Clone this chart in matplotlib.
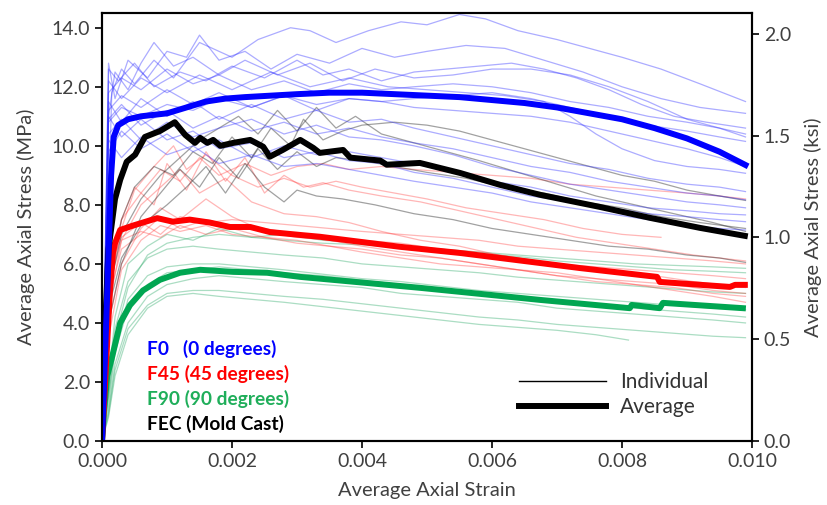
import matplotlib
matplotlib.use('Agg')
import matplotlib.pyplot as plt
import matplotlib.lines as mlines
import numpy as np

# strain values are in units of 1e-3 (converted when plotted), stress in MPa
MPA_PER_KSI = 6.895

# ---- F0 (0 degrees) individual specimens ----
F0_STRAIN = [0, 0.1, 0.3, 0.6, 1.0, 1.4, 1.8, 2.3, 2.8, 3.3, 3.8, 4.3, 4.8, 5.4, 6.0, 6.6, 7.2, 7.8, 8.4, 9.0, 9.5, 9.9]
f0_1_strain = [0, 0.15, 0.3, 0.5, 0.8, 1.1, 1.5, 2.0, 2.4, 2.9, 3.2, 3.6, 4.1, 4.6, 5.0, 5.5, 5.9, 6.4, 7.0, 7.5, 8.0, 8.6, 9.2, 9.9]
f0_1_stress = [0, 11.8, 12.6, 12.1, 12.9, 12.3, 13.5, 13.0, 13.6, 14.0, 13.9, 13.5, 13.9, 14.2, 14.1, 14.45, 14.3, 13.9, 13.6, 13.3, 13.0, 12.6, 12.1, 11.5]
f0_2_strain = [0, 0.1, 0.2, 0.4, 0.7, 1.0, 1.3, 1.5, 1.8, 2.2, 2.6, 3.0, 3.5, 4.0, 4.5, 5.0, 5.6, 6.2, 6.8, 7.4, 8.0, 8.6, 9.2, 9.9]
f0_2_stress = [0, 12.8, 11.6, 12.9, 12.3, 13.2, 13.0, 13.75, 12.9, 13.2, 12.6, 13.1, 12.8, 13.3, 13.0, 13.2, 13.4, 13.3, 12.9, 12.5, 12.0, 11.6, 11.3, 11.1]
f0_3_strain = [0, 0.1, 0.25, 0.5, 0.8, 1.2, 1.6, 2.0, 2.5, 3.0, 3.4, 3.8, 4.3, 4.8, 5.3, 5.8, 6.3, 6.8, 7.3, 7.8, 8.3, 8.8, 9.3, 9.9]
f0_3_stress = [0, 12.6, 12.2, 12.8, 12.0, 12.5, 12.2, 12.7, 12.3, 12.9, 12.4, 12.6, 12.2, 12.5, 12.6, 12.7, 12.8, 12.6, 12.3, 11.9, 11.4, 11.0, 10.8, 10.6]
f0_4_stress = [0, 11.8, 12.3, 11.9, 12.6, 12.1, 12.4, 11.9, 12.2, 11.8, 12.1, 11.9, 12.0, 12.1, 12.0, 11.8, 11.5, 11.3, 11.0, 10.8, 10.6, 10.4]
f0_5_stress = [0, 11.2, 11.7, 11.3, 11.9, 11.4, 11.8, 11.3, 11.7, 11.2, 11.6, 11.5, 11.6, 11.7, 11.8, 11.6, 11.3, 11.0, 10.7, 10.5, 10.3, 10.15]
f0_6_stress = [0, 10.8, 11.3, 11.0, 11.4, 11.2, 11.6, 11.3, 11.7, 11.4, 11.6, 11.5, 11.3, 11.2, 11.1, 11.0, 10.8, 10.5, 10.2, 9.9, 9.6, 9.3]
f0_7_strain = [0, 0.1, 0.3, 0.6, 1.0, 1.5, 2.0, 2.6, 3.2, 3.8, 4.4, 5.0, 5.6, 6.2, 6.8, 7.2, 7.6, 8.0, 8.5, 9.0, 9.5, 9.9]
f0_7_stress = [0, 12.2, 11.6, 12.3, 11.8, 12.4, 11.9, 12.5, 12.0, 12.3, 12.0, 11.9, 11.8, 11.7, 11.5, 11.0, 10.4, 9.9, 9.5, 9.3, 9.2, 9.07]
f0_8_stress = [0, 11.5, 10.8, 11.6, 11.0, 11.5, 10.9, 11.4, 10.9, 11.2, 10.8, 10.9, 10.6, 10.3, 10.0, 9.7, 9.4, 9.2, 8.9, 8.7, 8.6, 8.45]
f0_9_stress = [0, 10.9, 11.4, 10.7, 11.2, 10.6, 11.0, 10.5, 10.8, 10.4, 10.6, 10.3, 10.1, 9.9, 9.6, 9.3, 9.1, 8.8, 8.6, 8.4, 8.3, 8.17]
f0_10_stress = [0, 10.4, 10.9, 10.2, 10.8, 10.3, 10.6, 10.9, 10.4, 10.7, 10.3, 10.2, 10.0, 9.7, 9.3, 9.0, 8.7, 8.5, 8.3, 8.1, 8.0, 7.9]
f0_11_stress = [0, 9.8, 10.5, 9.9, 10.4, 9.8, 10.2, 9.6, 10.0, 9.7, 9.8, 9.6, 9.4, 9.1, 8.8, 8.6, 8.3, 8.1, 7.9, 7.8, 7.7, 7.66]
f0_12_stress = [0, 11.0, 10.3, 10.9, 10.2, 10.5, 9.9, 10.1, 9.6, 9.8, 9.5, 9.4, 9.1, 8.9, 8.6, 8.3, 8.1, 7.9, 7.7, 7.6, 7.5, 7.43]
f0_13_stress = [0, 10.2, 9.6, 10.3, 9.7, 10.0, 9.4, 9.7, 9.3, 9.4, 9.2, 9.0, 8.8, 8.6, 8.4, 8.1, 7.9, 7.7, 7.5, 7.3, 7.2, 7.15]
f0_14_strain = [0, 0.1, 0.2, 0.4, 0.6, 0.8, 1.1, 1.4, 1.8, 2.2, 2.7, 3.2, 3.7, 4.2, 4.8, 5.4, 6.0, 6.6, 7.2, 7.8, 8.4, 9.0, 9.5, 9.9]
f0_14_stress = [0, 11.0, 12.5, 11.9, 12.8, 13.5, 12.7, 13.0, 12.4, 12.9, 12.4, 12.8, 12.2, 12.6, 12.3, 12.4, 12.6, 12.6, 12.4, 12.0, 11.5, 10.9, 10.6, 10.3]

# ---- FEC (mold cast) individual specimens ----
fec_1_strain = [0, 0.1, 0.3, 0.5, 0.8, 1.1, 1.4, 1.7, 2.0, 2.3, 2.6, 2.9, 3.1, 3.4, 3.7, 4.0, 4.5, 5.0, 5.5, 6.0, 6.5, 7.0, 7.5, 8.0, 8.5, 9.0, 9.5, 9.9]
fec_1_stress = [0, 5.5, 7.5, 8.6, 9.3, 9.0, 9.8, 9.4, 10.3, 9.6, 10.6, 10.0, 10.9, 10.2, 10.5, 10.7, 10.8, 10.7, 10.5, 10.2, 9.9, 9.6, 9.3, 9.0, 8.8, 8.5, 8.3, 8.15]
fec_2_strain = [0, 0.1, 0.3, 0.6, 0.9, 1.2, 1.5, 1.8, 2.1, 2.4, 2.7, 3.0, 3.3, 3.6, 3.9, 4.3, 4.8, 5.3, 5.8, 6.4, 7.0, 7.6, 8.2, 8.8, 9.4, 9.9]
fec_2_stress = [0, 5.0, 7.0, 8.2, 9.0, 9.6, 10.2, 10.6, 11.0, 10.4, 11.2, 10.5, 11.3, 10.6, 11.0, 10.4, 10.1, 9.8, 9.5, 9.1, 8.7, 8.3, 8.0, 7.7, 7.4, 7.1]
fec_3_strain = [0, 0.1, 0.3, 0.6, 1.0, 1.3, 1.6, 1.9, 2.2, 2.5, 2.8, 3.0, 3.3, 3.7, 4.2, 4.8, 5.4, 6.0, 6.6, 7.2, 7.8, 8.4, 9.0, 9.5, 9.9]
fec_3_stress = [0, 4.5, 6.2, 7.3, 8.0, 8.6, 9.3, 8.4, 9.4, 8.6, 8.1, 8.5, 8.3, 8.2, 8.0, 7.7, 7.5, 7.2, 7.0, 6.8, 6.6, 6.5, 6.3, 6.2, 6.05]
fec_4_strain = [0, 0.1, 0.3, 0.6, 0.9, 1.2, 1.5, 1.8, 2.1, 2.4, 2.7, 3.0, 3.3, 3.6, 4.0, 4.5, 5.0, 5.6, 6.2, 6.8, 7.4, 8.0, 8.6, 9.2, 9.9]
fec_4_stress = [0, 4.0, 6.0, 7.6, 8.4, 9.2, 8.6, 9.6, 8.9, 9.9, 9.2, 9.8, 9.3, 9.6, 9.5, 9.3, 9.1, 8.9, 8.6, 8.4, 8.1, 7.9, 7.6, 7.4, 7.2]

# ---- F45 (45 degrees) individual specimens ----
F45_STRAIN = [0, 0.1, 0.3, 0.6, 0.9, 1.2, 1.6, 2.0, 2.5, 3.0, 3.5, 4.0, 4.6, 5.2, 5.8, 6.4, 7.0, 7.6, 8.2, 8.8, 9.4, 9.9]
f45_1_strain = [0, 0.1, 0.3, 0.6, 0.9, 1.2, 1.5, 1.8, 2.2, 2.6, 3.0, 3.4, 3.8, 4.3, 4.8, 5.4, 6.0, 6.6, 7.2, 7.8, 8.4, 9.0, 9.5, 9.9]
f45_1_stress = [0, 5.5, 7.5, 8.4, 9.2, 8.8, 9.6, 9.0, 9.4, 9.0, 9.3, 9.4, 9.2, 9.3, 9.2, 9.1, 9.0, 8.9, 8.7, 8.6, 8.5, 8.4, 8.3, 8.2]
f45_2_strain = [0, 0.1, 0.3, 0.5, 0.8, 1.1, 1.3, 1.6, 2.0, 2.4, 2.8, 3.2, 3.6, 4.0, 4.5, 5.0, 5.6, 6.2, 6.8, 7.4, 8.0, 8.6]
f45_2_stress = [0, 5.0, 7.2, 8.5, 9.3, 10.0, 9.2, 9.7, 9.0, 8.6, 8.9, 8.6, 8.8, 8.6, 8.4, 8.2, 7.9, 7.7, 7.5, 7.2, 7.0, 6.9]
f45_3_strain = [0, 0.1, 0.3, 0.6, 0.9, 1.2, 1.5, 1.9, 2.3, 2.8, 3.3, 3.8, 4.3, 4.9, 5.5, 6.1, 6.7, 7.3, 7.9, 8.5, 9.1, 9.9]
f45_3_stress = [0, 4.5, 6.8, 8.0, 8.6, 9.2, 8.4, 8.9, 8.1, 7.7, 7.6, 7.4, 7.1, 6.8, 6.6, 6.3, 6.1, 5.9, 5.7, 5.6, 5.4, 5.2]
f45_4_stress = [0, 4.0, 6.0, 7.2, 7.9, 7.5, 8.2, 7.6, 7.1, 6.9, 6.8, 6.6, 6.4, 6.2, 6.0, 5.8, 5.6, 5.4, 5.3, 5.1, 4.9, 4.7]
f45_5_stress = [0, 5.2, 6.8, 7.1, 6.9, 7.3, 7.0, 7.2, 6.9, 6.8, 6.6, 6.5, 6.3, 6.2, 6.0, 5.8, 5.7, 5.5, 5.4, 5.3, 5.1, 5.0]
f45_6_stress = [0, 4.8, 6.5, 7.0, 7.6, 7.2, 7.5, 7.3, 7.2, 7.0, 6.9, 6.8, 6.7, 6.5, 6.4, 6.2, 6.0, 5.9, 5.8, 5.7, 5.6, 5.5]
f45_7_stress = [0, 5.8, 6.9, 7.4, 7.0, 7.6, 7.4, 7.5, 7.4, 7.3, 7.2, 7.1, 7.0, 6.9, 6.8, 6.6, 6.5, 6.4, 6.3, 6.2, 6.1, 6.0]
f45_8_stress = [0, 3.5, 5.8, 6.8, 7.3, 7.1, 7.3, 7.0, 6.9, 6.7, 6.6, 6.4, 6.2, 6.0, 5.9, 5.8, 5.6, 5.5, 5.3, 5.2, 5.0, 4.9]
f45_9_strain = [0, 0.1, 0.3, 0.5, 0.8, 1.0, 1.3, 1.6, 1.9, 2.2, 2.5, 2.8, 3.1, 3.4, 3.8, 4.3, 4.9, 5.5, 6.1, 6.7, 7.3, 7.9, 8.5, 9.1, 9.9]
f45_9_stress = [0, 4.8, 7.5, 8.6, 8.0, 9.4, 8.5, 9.8, 8.8, 9.6, 8.4, 9.0, 8.6, 8.75, 8.5, 8.3, 8.1, 7.8, 7.5, 7.2, 6.9, 6.7, 6.5, 6.3, 6.1]

# ---- F90 (90 degrees) individual specimens ----
F90_STRAIN = [0, 0.1, 0.2, 0.4, 0.7, 1.0, 1.4, 1.8, 2.3, 2.8, 3.4, 4.0, 4.6, 5.2, 5.8, 6.4, 7.0, 7.6, 8.2, 8.8, 9.4, 9.9]
f90_1_stress = [0, 1.5, 3.5, 5.2, 6.3, 6.7, 6.9, 7.0, 6.9, 6.8, 6.7, 6.65, 6.55, 6.45, 6.35, 6.25, 6.1, 6.0, 5.9, 5.8, 5.75, 5.7]
f90_2_stress = [0, 1.8, 3.8, 5.4, 6.2, 6.5, 6.6, 6.5, 6.4, 6.3, 6.2, 6.0, 5.9, 5.8, 5.7, 5.55, 5.45, 5.35, 5.25, 5.15, 5.05, 5.0]
f90_3_stress = [0, 1.2, 3.0, 4.5, 5.3, 5.7, 5.8, 5.9, 5.8, 5.7, 5.6, 5.45, 5.3, 5.15, 5.0, 4.9, 4.75, 4.6, 4.5, 4.4, 4.3, 4.2]
f90_4_stress = [0, 1.0, 2.6, 4.0, 4.9, 5.3, 5.5, 5.6, 5.5, 5.4, 5.3, 5.2, 5.0, 4.9, 4.8, 4.7, 4.5, 4.4, 4.3, 4.2, 4.1, 4.0]
f90_5_strain = [0, 0.1, 0.2, 0.4, 0.7, 1.0, 1.4, 1.8, 2.3, 2.8, 3.4, 4.0, 4.6, 5.2, 5.8, 6.4, 7.0, 7.6, 8.1]
f90_5_stress = [0, 0.8, 2.2, 3.6, 4.5, 4.9, 5.0, 4.9, 4.8, 4.7, 4.55, 4.4, 4.25, 4.1, 3.95, 3.85, 3.75, 3.6, 3.42]
f90_6_stress = [0, 0.9, 2.4, 3.8, 4.6, 5.0, 5.1, 5.1, 5.0, 4.9, 4.8, 4.65, 4.5, 4.35, 4.2, 4.1, 3.95, 3.85, 3.75, 3.65, 3.55, 3.5]
f90_7_stress = [0, 1.5, 3.2, 4.8, 5.6, 5.9, 6.0, 6.0, 5.9, 5.8, 5.65, 5.5, 5.4, 5.25, 5.1, 5.0, 4.9, 4.8, 4.7, 4.6, 4.5, 4.45]
f90_8_stress = [0, 2.0, 4.2, 6.0, 6.6, 7.0, 6.8, 7.2, 6.9, 7.0, 6.8, 6.7, 6.6, 6.5, 6.4, 6.3, 6.2, 6.1, 6.0, 5.95, 5.9, 5.85]

# ---- averages ----
f0_avg_strain = [0, 0.08, 0.14, 0.18, 0.25, 0.4, 0.6, 0.8, 1.0, 1.3, 1.6, 1.9, 2.2, 2.6, 3.0, 3.5, 4.0, 4.5, 5.0, 5.5, 6.0, 6.5, 7.0, 7.5, 8.0, 8.5, 9.0, 9.5, 9.9]
f0_avg_stress = [0, 5.0, 9.0, 10.3, 10.7, 10.9, 11.0, 11.05, 11.1, 11.3, 11.5, 11.6, 11.65, 11.7, 11.75, 11.8, 11.8, 11.75, 11.7, 11.65, 11.55, 11.45, 11.3, 11.1, 10.9, 10.6, 10.25, 9.8, 9.35]
fec_avg_strain = [0, 0.05, 0.1, 0.2, 0.28, 0.38, 0.51, 0.66, 0.89, 1.12, 1.28, 1.43, 1.51, 1.62, 1.71, 1.82, 2.02, 2.28, 2.48, 2.58, 2.78, 3.05, 3.25, 3.35, 3.71, 3.82, 4.28, 4.38, 4.89, 5.51, 6.12, 6.74, 7.66, 8.43, 9.2, 9.89]
fec_avg_stress = [0, 4.0, 6.5, 8.2, 8.85, 9.46, 9.7, 10.3, 10.5, 10.8, 10.37, 10.1, 10.27, 10.1, 10.2, 10.0, 10.1, 10.2, 9.97, 9.63, 9.86, 10.2, 9.93, 9.76, 9.86, 9.6, 9.5, 9.36, 9.42, 9.08, 8.68, 8.34, 7.93, 7.56, 7.22, 6.95]
f45_avg_strain = [0, 0.06, 0.12, 0.17, 0.2, 0.28, 0.48, 0.85, 1.09, 1.35, 1.66, 1.97, 2.28, 2.58, 3.05, 3.35, 4.58, 5.51, 6.74, 7.35, 8.54, 8.58, 9.66, 9.74, 9.89]
f45_avg_stress = [0, 2.5, 5.0, 6.4, 6.7, 7.15, 7.3, 7.55, 7.43, 7.5, 7.4, 7.25, 7.25, 7.08, 6.98, 6.92, 6.58, 6.37, 6.03, 5.86, 5.56, 5.39, 5.22, 5.29, 5.29]
f90_avg_strain = [0, 0.03, 0.08, 0.15, 0.28, 0.43, 0.63, 0.89, 1.2, 1.51, 2.02, 2.54, 3.05, 3.35, 4.89, 6.74, 8.12, 8.15, 8.58, 8.63, 9.86]
f90_avg_stress = [0, 1.0, 2.2, 2.8, 4.0, 4.6, 5.1, 5.46, 5.7, 5.8, 5.73, 5.7, 5.56, 5.5, 5.19, 4.78, 4.5, 4.61, 4.5, 4.68, 4.5]

F0_IND = [(f0_1_strain, f0_1_stress), (f0_2_strain, f0_2_stress), (f0_3_strain, f0_3_stress),
          (F0_STRAIN, f0_4_stress), (F0_STRAIN, f0_5_stress), (F0_STRAIN, f0_6_stress),
          (f0_7_strain, f0_7_stress), (F0_STRAIN, f0_8_stress), (F0_STRAIN, f0_9_stress),
          (F0_STRAIN, f0_10_stress), (F0_STRAIN, f0_11_stress), (F0_STRAIN, f0_12_stress),
          (F0_STRAIN, f0_13_stress), (f0_14_strain, f0_14_stress)]
FEC_IND = [(fec_1_strain, fec_1_stress), (fec_2_strain, fec_2_stress),
           (fec_3_strain, fec_3_stress), (fec_4_strain, fec_4_stress)]
F45_IND = [(f45_1_strain, f45_1_stress), (f45_2_strain, f45_2_stress), (f45_3_strain, f45_3_stress),
           (F45_STRAIN, f45_4_stress), (F45_STRAIN, f45_5_stress), (F45_STRAIN, f45_6_stress),
           (F45_STRAIN, f45_7_stress), (F45_STRAIN, f45_8_stress), (f45_9_strain, f45_9_stress)]
F90_IND = [(F90_STRAIN, f90_1_stress), (F90_STRAIN, f90_2_stress), (F90_STRAIN, f90_3_stress),
           (F90_STRAIN, f90_4_stress), (f90_5_strain, f90_5_stress), (F90_STRAIN, f90_6_stress),
           (F90_STRAIN, f90_7_stress), (F90_STRAIN, f90_8_stress)]

BLUE, RED, GREEN, BLACK = '#0000ff', '#ff0000', '#00a651', '#000000'
TEXT_GRAY = '#404040'
TICK_SIZE = 14
LABEL_SIZE = 14.5

plt.rcParams['font.family'] = ['Lato', 'DejaVu Sans']

fig = plt.figure(figsize=(8.28, 5.05), dpi=100)
ax = fig.add_axes([0.1232, 0.1267, 0.785, 0.8476])

# individual curves first (thin, translucent), then the averages on top
for curves, color, alpha in [(F90_IND, '#2eaa6a', 0.4), (F45_IND, '#ff3030', 0.35),
                             (FEC_IND, '#303030', 0.45), (F0_IND, '#3030ff', 0.4)]:
    for strain, stress in curves:
        ax.plot(np.array(strain) * 1e-3, stress, color=color, alpha=alpha, lw=0.9, zorder=2)

for strain, stress, color in [(f90_avg_strain, f90_avg_stress, GREEN), (f45_avg_strain, f45_avg_stress, RED),
                              (fec_avg_strain, fec_avg_stress, BLACK), (f0_avg_strain, f0_avg_stress, BLUE)]:
    ax.plot(np.array(strain) * 1e-3, stress, color=color, lw=4.3, solid_joinstyle='round', zorder=3)

ax.set_xlim(0, 0.010)
ax.set_ylim(0, 14.5)
ax.set_xticks(np.arange(0, 0.0101, 0.002))
ax.set_xticklabels([f'{v:.3f}' for v in np.arange(0, 0.0101, 0.002)])
ax.set_yticks(np.arange(0, 14.1, 2.0))
ax.set_yticklabels([f'{v:.1f}' for v in np.arange(0, 14.1, 2.0)])
ax.tick_params(direction='out', length=5, width=1.2, color='black', labelsize=TICK_SIZE, labelcolor=TEXT_GRAY)
for sp in ax.spines.values():
    sp.set_linewidth(1.5)
ax.set_xlabel('Average Axial Strain', fontsize=LABEL_SIZE, color=TEXT_GRAY, labelpad=9)
ax.set_ylabel('Average Axial Stress (MPa)', fontsize=LABEL_SIZE, color=TEXT_GRAY, labelpad=12)

# secondary axis in ksi
ax2 = ax.twinx()
ax2.set_ylim(0, 14.5 / MPA_PER_KSI)
ax2.set_yticks(np.arange(0, 2.01, 0.5))
ax2.set_yticklabels([f'{v:.1f}' for v in np.arange(0, 2.01, 0.5)])
ax2.tick_params(direction='out', length=5, width=1.2, color='black', labelsize=TICK_SIZE, labelcolor=TEXT_GRAY)
for sp in ax2.spines.values():
    sp.set_linewidth(1.5)
ax2.set_ylabel('Average Axial Stress (ksi)', fontsize=LABEL_SIZE, color=TEXT_GRAY, labelpad=9)

# group labels
for i, (label, color) in enumerate([('F0   (0 degrees)', BLUE), ('F45 (45 degrees)', RED),
                                    ('F90 (90 degrees)', '#1fae5a'), ('FEC (Mold Cast)', BLACK)]):
    ax.text(0.069, 0.215 - i * 0.0585, label, transform=ax.transAxes, color=color,
            fontsize=13.8, fontweight='bold', va='center', ha='left')

h_ind = mlines.Line2D([], [], color='black', lw=1.0)
h_avg = mlines.Line2D([], [], color='black', lw=4.3)
leg = ax.legend([h_ind, h_avg], ['Individual', 'Average'], loc='lower left',
                bbox_to_anchor=(0.619, 0.022), frameon=False, fontsize=15,
                handlelength=4.2, handletextpad=0.65, labelspacing=0.25, borderaxespad=0.3)
for t in leg.get_texts():
    t.set_color('#333333')

fig.savefig('out.png', dpi=100)
